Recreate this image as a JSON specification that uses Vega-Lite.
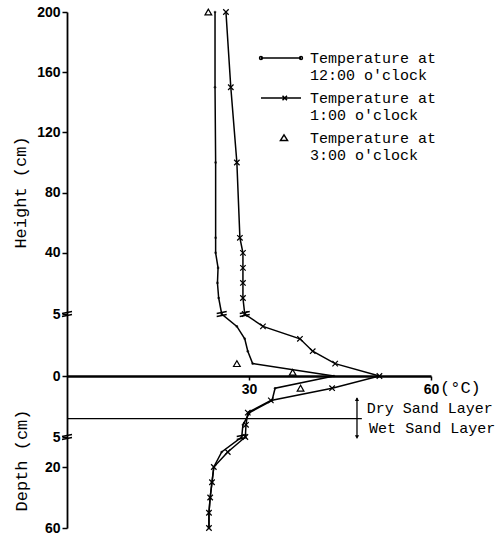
{
  "$schema": "https://vega.github.io/schema/vega-lite/v6.json",
  "width": 364,
  "height": 516,
  "autosize": {"type": "none"},
  "padding": {"left": 67, "top": 12, "right": 71, "bottom": 10},
  "background": "white",
  "config": {
    "view": {"stroke": null},
    "font": "Liberation Sans",
    "axis": {"grid": false, "domainColor": "black", "tickColor": "black", "labelColor": "black", "titleColor": "black", "labelFlush": false, "labelOverlap": false}
  },
  "datasets": {
    "profiles": [
      {"series": "12:00", "T": 24.4, "h": 200},
      {"series": "12:00", "T": 24.4, "h": 150},
      {"series": "12:00", "T": 24.5, "h": 100},
      {"series": "12:00", "T": 24.5, "h": 50},
      {"series": "12:00", "T": 24.5, "h": 40},
      {"series": "12:00", "T": 24.9, "h": 30},
      {"series": "12:00", "T": 24.8, "h": 20},
      {"series": "12:00", "T": 25.0, "h": 10},
      {"series": "12:00", "T": 25.5, "h": 5},
      {"series": "12:00", "T": 28.0, "h": 4},
      {"series": "12:00", "T": 29.3, "h": 3},
      {"series": "12:00", "T": 29.8, "h": 2},
      {"series": "12:00", "T": 30.6, "h": 1},
      {"series": "12:00", "T": 44.0, "h": 0},
      {"series": "12:00", "T": 34.3, "h": -1},
      {"series": "12:00", "T": 33.8, "h": -2},
      {"series": "12:00", "T": 30.1, "h": -3},
      {"series": "12:00", "T": 29.0, "h": -4},
      {"series": "12:00", "T": 28.8, "h": -5},
      {"series": "12:00", "T": 25.5, "h": -10},
      {"series": "12:00", "T": 24.2, "h": -20},
      {"series": "12:00", "T": 23.9, "h": -30},
      {"series": "12:00", "T": 23.6, "h": -40},
      {"series": "12:00", "T": 23.4, "h": -50},
      {"series": "12:00", "T": 23.4, "h": -60},
      {"series": "1:00", "T": 26.2, "h": 200},
      {"series": "1:00", "T": 27.0, "h": 150},
      {"series": "1:00", "T": 28.0, "h": 100},
      {"series": "1:00", "T": 28.5, "h": 50},
      {"series": "1:00", "T": 29.0, "h": 40},
      {"series": "1:00", "T": 29.0, "h": 30},
      {"series": "1:00", "T": 29.0, "h": 20},
      {"series": "1:00", "T": 29.0, "h": 10},
      {"series": "1:00", "T": 29.3, "h": 5},
      {"series": "1:00", "T": 32.3, "h": 4},
      {"series": "1:00", "T": 38.4, "h": 3},
      {"series": "1:00", "T": 40.5, "h": 2},
      {"series": "1:00", "T": 44.2, "h": 1},
      {"series": "1:00", "T": 51.5, "h": 0},
      {"series": "1:00", "T": 43.7, "h": -1},
      {"series": "1:00", "T": 33.6, "h": -2},
      {"series": "1:00", "T": 29.8, "h": -3},
      {"series": "1:00", "T": 29.5, "h": -4},
      {"series": "1:00", "T": 29.4, "h": -5},
      {"series": "1:00", "T": 26.5, "h": -10},
      {"series": "1:00", "T": 24.2, "h": -20},
      {"series": "1:00", "T": 23.9, "h": -30},
      {"series": "1:00", "T": 23.6, "h": -40},
      {"series": "1:00", "T": 23.4, "h": -50},
      {"series": "1:00", "T": 23.4, "h": -60}
    ],
    "tri": [
      {"series": "3:00", "T": 23.3, "h": 200},
      {"series": "3:00", "T": 28.0, "h": 1},
      {"series": "3:00", "T": 37.2, "h": 0.3},
      {"series": "3:00", "T": 38.5, "h": -1}
    ],
    "breaks": [
      {"T": 0, "h": 5},
      {"T": 0, "h": -5},
      {"T": 25.5, "h": 5},
      {"T": 29.3, "h": 5},
      {"T": 28.8, "h": -5}
    ]
  },
  "resolve": {"axis": {"y": "independent"}},
  "layer": [
    {
      "data": {"name": "profiles"},
      "mark": {"type": "line", "color": "black", "strokeWidth": 1.5},
      "encoding": {
        "x": {"field": "T", "type": "quantitative", "scale": {"domain": [0, 60], "nice": false, "zero": false},
          "axis": {"values": [30, 60], "title": null, "offset": -152, "domainWidth": 2.5, "tickSize": 4, "tickWidth": 1.5, "labelFont": "Liberation Sans", "labelFontWeight": "bold", "labelFontSize": 14, "labelPadding": 2}},
        "y": {"field": "h", "type": "quantitative",
          "scale": {"domain": [-60, -20, -10, -5, 0, 5, 10, 200], "range": [516, 455, 440, 425, 364, 302, 286, 0], "nice": false, "zero": false},
          "axis": {"orient": "left", "values": [200, 160, 120, 80, 40, 5, 0], "title": "Height (cm)", "titleFont": "Liberation Mono", "titleFontSize": 17, "titleFontWeight": "normal", "titleX": -47, "titleY": 180, "titleAngle": 270, "titleAlign": "center", "titleBaseline": "middle", "labelFont": "Liberation Sans", "labelFontWeight": "bold", "labelFontSize": 14, "tickSize": 5, "tickWidth": 1.5, "labelPadding": 2, "domainWidth": 1.8}},
        "detail": {"field": "series"},
        "order": {"field": "h", "sort": "descending"}
      }
    },
    {
      "data": {"name": "profiles"},
      "transform": [{"filter": "datum.series == '12:00'"}],
      "mark": {"type": "point", "shape": "circle", "filled": true, "color": "black", "size": 7},
      "encoding": {
        "x": {"field": "T", "type": "quantitative"},
        "y": {"field": "h", "type": "quantitative", "axis": null}
      }
    },
    {
      "data": {"name": "profiles"},
      "transform": [{"filter": "datum.series == '1:00'"}],
      "mark": {"type": "point", "shape": "M-1,-1L1,1M-1,1L1,-1", "filled": false, "color": "black", "size": 30, "strokeWidth": 1.2, "opacity": 1},
      "encoding": {
        "x": {"field": "T", "type": "quantitative"},
        "y": {"field": "h", "type": "quantitative",
          "axis": {"orient": "left", "values": [-5, -20, -60], "labelExpr": "'' + abs(datum.value)", "domain": false, "title": "Depth (cm)", "titleFont": "Liberation Mono", "titleFontSize": 17, "titleFontWeight": "normal", "titleX": -46, "titleY": 448, "titleAngle": 270, "titleAlign": "center", "titleBaseline": "middle", "labelFont": "Liberation Sans", "labelFontWeight": "bold", "labelFontSize": 14, "tickSize": 5, "tickWidth": 1.5, "labelPadding": 2}}
      }
    },
    {
      "data": {"name": "tri"},
      "mark": {"type": "point", "shape": "triangle-up", "filled": false, "color": "black", "size": 45, "strokeWidth": 1.2, "opacity": 1},
      "encoding": {
        "x": {"field": "T", "type": "quantitative"},
        "y": {"field": "h", "type": "quantitative", "axis": null}
      }
    },
    {
      "data": {"name": "breaks"},
      "mark": {"type": "point", "shape": "M-1,-0.1L1,-0.5M-1,0.5L1,0.1", "filled": false, "color": "black", "size": 100, "strokeWidth": 1.3, "opacity": 1},
      "encoding": {
        "x": {"field": "T", "type": "quantitative"},
        "y": {"field": "h", "type": "quantitative", "axis": null}
      }
    },
    {
      "data": {"values": [{}]},
      "mark": {"type": "rule", "color": "black", "strokeWidth": 1.3},
      "encoding": {
        "x": {"datum": 0},
        "x2": {"datum": 48.6},
        "y": {"datum": -3.5, "axis": null}
      }
    },
    {
      "data": {"values": [{}]},
      "mark": {"type": "rule", "color": "black", "strokeWidth": 1.3},
      "encoding": {
        "x": {"datum": 47.8},
        "y": {"datum": -1.8, "axis": null},
        "y2": {"datum": -5.1}
      }
    },
    {
      "data": {"values": [{}]},
      "mark": {"type": "point", "shape": "triangle-up", "filled": true, "color": "black", "size": 18, "opacity": 1},
      "encoding": {
        "x": {"datum": 47.8},
        "y": {"datum": -1.9, "axis": null}
      }
    },
    {
      "data": {"values": [{}]},
      "mark": {"type": "point", "shape": "triangle-down", "filled": true, "color": "black", "size": 18, "opacity": 1},
      "encoding": {
        "x": {"datum": 47.8},
        "y": {"datum": -5.05, "axis": null}
      }
    },
    {
      "data": {"values": [{}]},
      "mark": {"type": "text", "text": "(°C)", "font": "Liberation Mono", "fontSize": 17, "align": "left", "baseline": "middle", "dx": 9, "dy": 12, "color": "black"},
      "encoding": {
        "x": {"datum": 60},
        "y": {"datum": 0, "axis": null}
      }
    },
    {
      "data": {"values": [{}]},
      "mark": {"type": "text", "text": "Dry Sand Layer", "font": "Liberation Mono", "fontSize": 15, "align": "left", "baseline": "middle", "color": "black"},
      "encoding": {
        "x": {"datum": 49.4},
        "y": {"datum": -2.62, "axis": null}
      }
    },
    {
      "data": {"values": [{}]},
      "mark": {"type": "text", "text": "Wet Sand Layer", "font": "Liberation Mono", "fontSize": 15, "align": "left", "baseline": "middle", "color": "black"},
      "encoding": {
        "x": {"datum": 49.8},
        "y": {"datum": -4.26, "axis": null}
      }
    },
    {
      "data": {"values": []},
      "mark": {"type": "point", "filled": false, "color": "black", "strokeWidth": 1.5, "opacity": 1},
      "encoding": {
        "shape": {"field": "s", "type": "nominal",
          "scale": {"domain": ["12:00", "1:00", "3:00"], "range": [
            "M-2.67,0H2.67M-2.48,0a0.19,0.19 0 1,0 -0.38,0a0.19,0.19 0 1,0 0.38,0M2.86,0a0.19,0.19 0 1,0 -0.38,0a0.19,0.19 0 1,0 0.38,0",
            "M-2.67,0H2.67M0.2,-0.3L0.8,0.3M0.2,0.3L0.8,-0.3",
            "M0.4,-0.42L0.87,0.33L-0.07,0.33Z"
          ]},
          "legend": {"orient": "none", "legendX": 205.5, "legendY": 37.5, "direction": "vertical", "title": null, "padding": 0,
            "symbolSize": 225, "symbolStrokeWidth": 1.5, "symbolStrokeColor": "black",
            "labelFont": "Liberation Mono", "labelFontSize": 15, "labelColor": "black", "labelOffset": 20.5, "labelLimit": 300, "rowPadding": 6,
            "labelExpr": "['Temperature at', datum.label + \" o'clock\"]"}
        }
      }
    }
  ]
}
